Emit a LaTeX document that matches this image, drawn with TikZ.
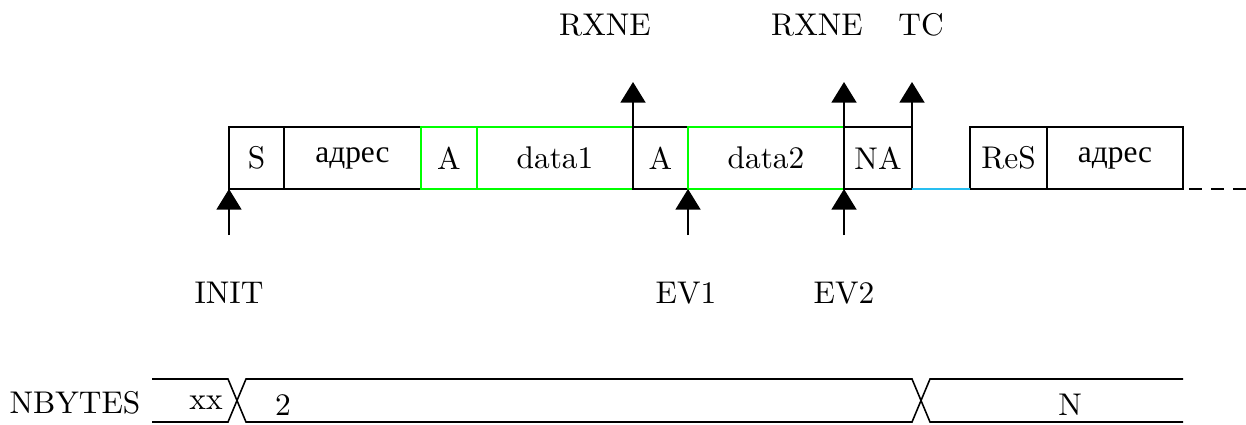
\documentclass[tikz,border=0pt]{standalone}
\usepackage{fontspec}
\newfontfamily\cyrfont{Liberation Serif}
\usetikzlibrary{arrows.meta,positioning}
\newcommand{\ux}{0.0112cm}
\definecolor{linkblue}{RGB}{40,190,240}

\begin{document}
\begin{tikzpicture}[x=\ux, y=-\ux, line width=0.5pt, >={Triangle[width=8pt,length=6.6pt]},
	cell/.style={draw, inner sep=0pt, outer sep=0pt, minimum height=62*\ux},
	okcell/.style={cell, draw=green}]
	\useasboundingbox (0,0) rectangle (1246,424);
	% frame cells
	\node[cell, anchor=north west, minimum width=55*\ux] (s) at (229,127) {S};
	\node[cell, minimum width=137*\ux, right=0pt of s] (adr) {\cyrfont адрес};
	\node[okcell, minimum width=56*\ux, right=0pt of adr] (a1) {A};
	\node[okcell, minimum width=156*\ux, right=0pt of a1] (d1) {data1};
	\node[cell, minimum width=55*\ux, right=0pt of d1] (a2) {A};
	\node[okcell, minimum width=156*\ux, right=0pt of a2] (d2) {data2};
	\node[cell, minimum width=68*\ux, right=0pt of d2] (na) {NA};
	\node[cell, minimum width=77*\ux, right=58*\ux of na] (res) {ReS};
	\node[cell, minimum width=136*\ux, right=0pt of res] (adr2) {\cyrfont адрес};
	\draw[linkblue] (na.south east) -- (res.south west);
	\coordinate (tail) at (1246,189);
	\draw[dash pattern=on 4pt off 3pt, dash phase=-2pt] (adr2.south east) -- (tail);
	% flags
	\node (rx1) at (605,25) {RXNE};
	\node (rx2) at (817,25) {RXNE};
	\node (tc) at (921,25) {TC};
	\coordinate (up1) at (633,82);
	\coordinate (up2) at (844,82);
	\coordinate (up3) at (912,82);
	\draw[->] (d1.north east) -- (up1);
	\draw[->] (d2.north east) -- (up2);
	\draw[->] (na.north east) -- (up3);
	% events
	\node (init) at (229,293) {INIT};
	\node (ev1) at (686,293) {EV1};
	\node (ev2) at (844,293) {EV2};
	\coordinate (lo1) at (229,235);
	\coordinate (lo2) at (688,235);
	\coordinate (lo3) at (844,235);
	\draw[->] (lo1) -- (s.south west);
	\draw[->] (lo2) -- (a2.south east);
	\draw[->] (lo3) -- (d2.south east);
	% NBYTES bus
	\node (nb) at (75,403) {NBYTES};
	\draw (152,379) -- (228,379) -- (246,422) -- (912,422) -- (930,379) -- (1183,379);
	\draw (152,422) -- (228,422) -- (246,379) -- (912,379) -- (930,422) -- (1183,422);
	\node (xx) at (206,403) {xx};
	\node (two) at (283,405) {2};
	\node (nn) at (1070,405) {N};
\end{tikzpicture}
\end{document}
